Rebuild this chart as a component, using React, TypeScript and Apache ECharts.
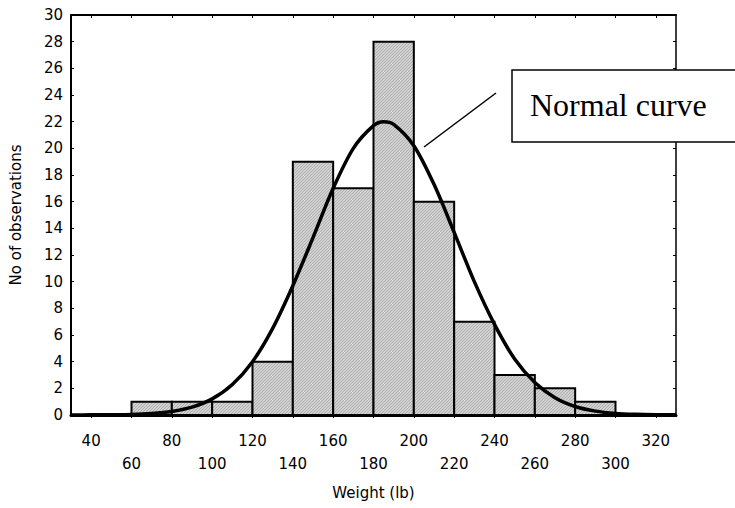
import React, { useEffect, useRef } from "react";
import * as echarts from "echarts";

// Histogram bins (lb) and counts
const binStarts = [60, 80, 100, 120, 140, 160, 180, 200, 220, 240, 260, 280];
const binEnds = [80, 100, 120, 140, 160, 180, 200, 220, 240, 260, 280, 300];
const counts = [1, 1, 1, 4, 19, 17, 28, 16, 7, 3, 2, 1];

// Normal curve
const curveX = [30, 40, 50, 60, 70, 80, 90, 100, 110, 120, 130, 140, 150, 160, 170, 180, 185, 190, 200, 210, 220, 230, 240, 250, 260, 270, 280, 290, 300, 310, 320, 330];
const curveY = [0.0, 0.01, 0.02, 0.04, 0.11, 0.27, 0.59, 1.21, 2.29, 4.0, 6.5, 9.7, 13.3, 17.0, 20.0, 21.7, 22.0, 21.8, 20.2, 17.3, 13.7, 10.0, 6.8, 4.2, 2.44, 1.3, 0.64, 0.29, 0.12, 0.05, 0.02, 0.01];

const xTicks = [40, 60, 80, 100, 120, 140, 160, 180, 200, 220, 240, 260, 280, 300, 320];

const FONT = "DejaVu Sans";

export default function App() {
  const ref = useRef<HTMLDivElement>(null);
  useEffect(() => {
    document.body.style.margin = "0";
    if (!ref.current) return;
    const chart = echarts.init(ref.current, null, { renderer: "svg" });

    const cv = document.createElement("canvas");
    cv.width = 3;
    cv.height = 3;
    const ctx = cv.getContext("2d")!;
    ctx.fillStyle = "#d0d0d0";
    ctx.fillRect(0, 0, 3, 3);
    ctx.fillStyle = "#b2b2b2";
    for (let i = 0; i < 3; i++) ctx.fillRect(i, 2 - i, 1, 1);
    const pattern: any = { image: cv, repeat: "repeat" };

    const barData = binStarts.map((s, i) => [s, binEnds[i], counts[i]]);
    const curveData = curveX.map((x, i) => [x, curveY[i]]);

    const labelStyle = { fontFamily: FONT, fontSize: 15, color: "#000" };

    chart.setOption({
      animation: false,
      grid: { left: 71, right: 59, top: 15, bottom: 93 },
      xAxis: [
        {
          type: "value",
          min: 30,
          max: 330,
          position: "bottom",
          axisLine: { onZero: false, lineStyle: { color: "#000", width: 3 } },
          axisTick: { show: true, customValues: xTicks, length: 3, lineStyle: { color: "#000" } },
          axisLabel: {
            ...labelStyle,
            customValues: xTicks,
            margin: 14,
            lineHeight: 23,
            formatter: (v: number) => (((v - 40) / 20) % 2 === 1 ? "\n" + v : String(v)),
          },
          splitLine: { show: false },
          name: "Weight (lb)",
          nameLocation: "middle",
          nameGap: 70,
          nameTextStyle: { fontFamily: FONT, fontSize: 15, color: "#000" },
        },
        {
          type: "value",
          min: 30,
          max: 330,
          position: "top",
          axisLine: { onZero: false, lineStyle: { color: "#000", width: 2 } },
          axisTick: { show: true, inside: true, customValues: xTicks, length: 3, lineStyle: { color: "#000" } },
          axisLabel: { show: false },
          splitLine: { show: false },
        },
      ],
      yAxis: [
        {
          type: "value",
          min: 0,
          max: 30,
          interval: 2,
          position: "left",
          axisLine: { show: true, lineStyle: { color: "#000", width: 2 } },
          axisTick: { show: true, inside: true, length: 3, lineStyle: { color: "#000" } },
          axisLabel: { ...labelStyle, margin: 8 },
          splitLine: { show: false },
          name: "No of observations",
          nameLocation: "middle",
          nameGap: 48,
          nameTextStyle: { fontFamily: FONT, fontSize: 15, color: "#000" },
        },
        {
          type: "value",
          min: 0,
          max: 30,
          interval: 2,
          position: "right",
          axisLine: { show: true, lineStyle: { color: "#000", width: 1.5 } },
          axisTick: { show: true, inside: true, length: 3, lineStyle: { color: "#000" } },
          axisLabel: { show: false },
          splitLine: { show: false },
        },
      ],
      series: [
        {
          type: "custom",
          xAxisIndex: 0,
          yAxisIndex: 0,
          data: barData,
          encode: { x: [0, 1], y: 2 },
          renderItem: (params: any, api: any) => {
            const p0 = api.coord([api.value(0), api.value(2)]);
            const p1 = api.coord([api.value(1), 0]);
            return {
              type: "rect",
              shape: { x: p0[0], y: p0[1], width: p1[0] - p0[0], height: p1[1] - p0[1] },
              style: { fill: pattern, stroke: "#000", lineWidth: 2 },
            };
          },
          z: 2,
        },
        {
          type: "line",
          xAxisIndex: 0,
          yAxisIndex: 0,
          data: curveData,
          smooth: 0.3,
          showSymbol: false,
          symbol: "none",
          lineStyle: { color: "#000", width: 3.5 },
          z: 3,
        },
      ],
      graphic: [
        {
          type: "line",
          shape: { x1: 424, y1: 147, x2: 496, y2: 93 },
          style: { stroke: "#000", lineWidth: 1.5 },
          z: 100,
        },
        {
          type: "rect",
          shape: { x: 512, y: 70, width: 260, height: 72 },
          style: { fill: "#fff", stroke: "#000", lineWidth: 1.5 },
          z: 100,
        },
        {
          type: "text",
          x: 530,
          y: 105,
          style: {
            text: "Normal curve",
            font: '32px "Liberation Serif"',
            fill: "#000",
            verticalAlign: "middle",
          },
          z: 101,
        },
      ],
    });
    return () => chart.dispose();
  }, []);
  return <div ref={ref} style={{ width: 735, height: 508 }} />;
}
